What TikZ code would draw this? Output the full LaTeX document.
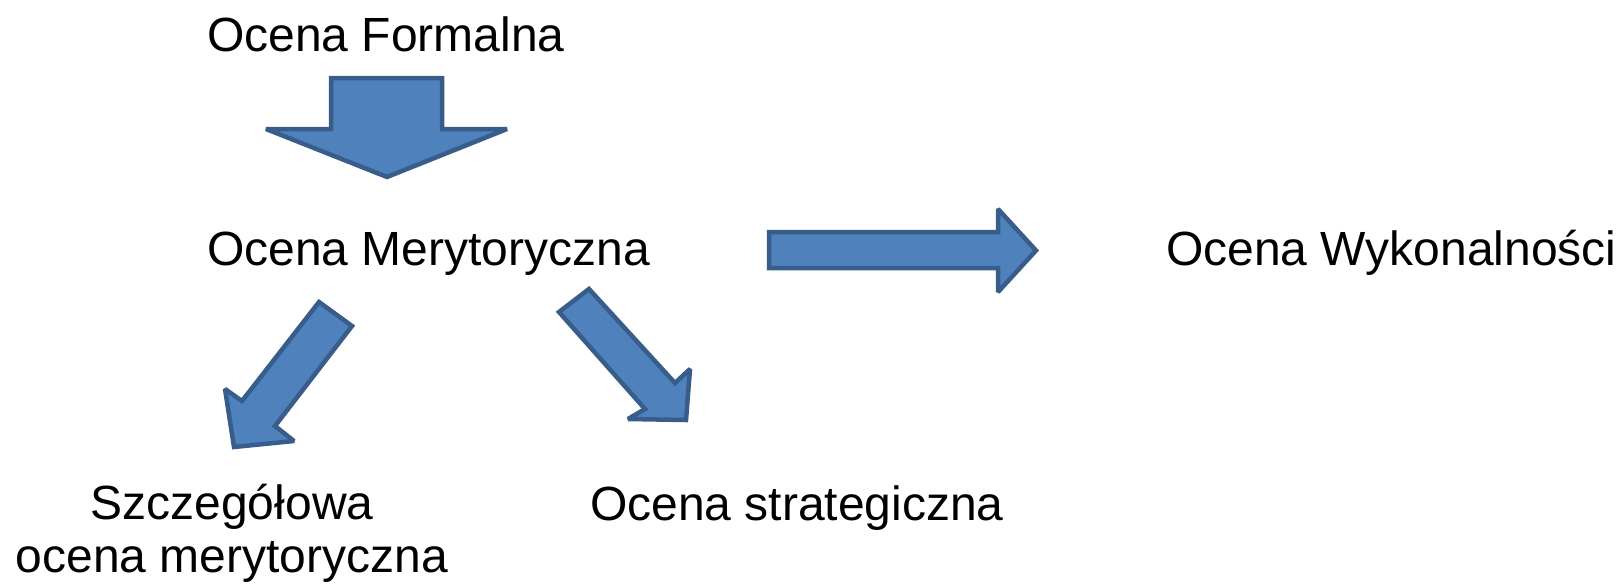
\documentclass[tikz,border=0pt]{standalone}
\usepackage{fontspec}
\setmainfont{Liberation Sans}
\definecolor{arrfill}{HTML}{4F81BD}
\definecolor{arrline}{HTML}{385D8A}
\begin{document}
\begin{tikzpicture}[x=1pt,y=-1pt,
  lbl/.style={inner sep=0pt,font=\fontsize{48}{53}\selectfont},
  blockarrow/.style={fill=arrfill,draw=arrline,line width=4.5pt,line join=miter,miter limit=2}]
\useasboundingbox (0,0) rectangle (1623,584);
% texts
\node[lbl,anchor=base west] (formal) at (207,51) {Ocena Formalna};
\node[lbl,anchor=base west] (meryt) at (207,265) {Ocena Merytoryczna};
\node[lbl,anchor=base west] (wykon) at (1166,265) {Ocena Wykonalności};
\node[lbl,anchor=base west] (strat) at (590,520) {Ocena strategiczna};
\node[lbl,anchor=base,align=center] (szcz) at (232,572) {Szczegółowa\\ocena merytoryczna};
% block arrows
\draw[blockarrow] (331,78) -- (442,78) -- (442,129) -- (507,129) -- (387,177) -- (266,129) -- (331,129) -- cycle;
\draw[blockarrow] (769,232) -- (998,232) -- (998,209) -- (1036,250.5) -- (998,292) -- (998,268) -- (769,268) -- cycle;
\draw[blockarrow] (319,302) -- (352,326) -- (275,426) -- (294,441) -- (234,447) -- (225,389) -- (242,401) -- cycle;
\draw[blockarrow] (559,312) -- (589,289) -- (675,383) -- (690,369) -- (686,420) -- (628,419) -- (645,409) -- cycle;
\end{tikzpicture}
\end{document}
